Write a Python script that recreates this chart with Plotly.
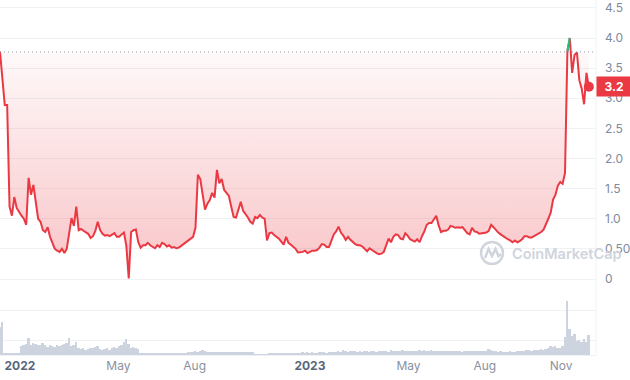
import plotly.graph_objects as go
import pandas as pd

# ---------------- data ----------------
start_date = "2021-12-07"
step = "3D"

prices = [
    3.77, 3.25, 2.89, 2.89, 1.20, 1.05, 1.36, 1.18, 1.11, 1.05,
    1.00, 0.90, 1.68, 1.40, 1.56, 1.23, 1.00, 0.95, 0.81, 0.78,
    0.86, 0.70, 0.60, 0.50, 0.47, 0.45, 0.50, 0.43, 0.50, 0.75,
    1.01, 0.88, 1.20, 0.81, 0.83, 0.80, 0.78, 0.75, 0.68, 0.71,
    0.80, 0.95, 0.81, 0.75, 0.72, 0.73, 0.71, 0.74, 0.76, 0.70,
    0.70, 0.74, 0.77, 0.55, 0.01, 0.78, 0.81, 0.82, 0.61, 0.52,
    0.56, 0.56, 0.60, 0.56, 0.53, 0.51, 0.56, 0.53, 0.60, 0.58,
    0.54, 0.56, 0.52, 0.53, 0.51, 0.52, 0.55, 0.58, 0.61, 0.64,
    0.67, 0.70, 0.85, 1.73, 1.66, 1.40, 1.15, 1.25, 1.31, 1.43,
    1.35, 1.81, 1.59, 1.66, 1.48, 1.43, 1.38, 1.20, 1.03, 1.02,
    1.15, 1.28, 1.13, 1.08, 1.02, 0.95, 0.92, 1.03, 1.01, 1.06,
    1.02, 1.00, 0.64, 0.76, 0.77, 0.73, 0.70, 0.67, 0.62, 0.57,
    0.70, 0.60, 0.57, 0.54, 0.50, 0.44, 0.44, 0.45, 0.47, 0.43,
    0.45, 0.47, 0.47, 0.48, 0.52, 0.58, 0.57, 0.53, 0.53, 0.62,
    0.74, 0.79, 0.87, 0.77, 0.72, 0.65, 0.70, 0.65, 0.61, 0.58,
    0.56, 0.56, 0.54, 0.50, 0.46, 0.51, 0.48, 0.45, 0.43, 0.41,
    0.42, 0.45, 0.56, 0.67, 0.61, 0.70, 0.74, 0.73, 0.67, 0.66,
    0.76, 0.72, 0.66, 0.64, 0.62, 0.66, 0.61, 0.71, 0.79, 0.90,
    0.93, 0.93, 0.99, 1.05, 0.89, 0.78, 0.80, 0.80, 0.82, 0.88,
    0.87, 0.85, 0.86, 0.85, 0.86, 0.81, 0.76, 0.74, 0.85, 0.79,
    0.78, 0.75, 0.76, 0.76, 0.77, 0.80, 0.90, 0.86, 0.81, 0.77,
    0.74, 0.71, 0.68, 0.66, 0.64, 0.61, 0.64, 0.61, 0.63, 0.66,
    0.71, 0.71, 0.69, 0.69, 0.71, 0.73, 0.76, 0.78, 0.82, 0.90,
    1.00, 1.10, 1.32, 1.40, 1.55, 1.61, 1.58, 1.76, 3.78, 4.00,
    3.42, 3.72, 3.76, 3.30, 3.16, 2.90, 3.42, 3.19,
]

volumes = [
    1.9, 2.2, 0.15, 0.1, 0.12, 0.1, 0.15, 0.12, 0.15, 0.6,
    0.7, 0.75, 1.15, 0.7, 0.8, 0.75, 0.7, 0.65, 0.8, 0.7,
    0.55, 0.65, 0.6, 0.55, 0.7, 0.6, 0.65, 0.75, 0.8, 1.15,
    0.6, 0.7, 0.9, 0.5, 0.4, 0.45, 0.35, 0.4, 0.45, 0.5,
    0.55, 0.6, 0.4, 0.35, 0.4, 0.45, 0.35, 0.5, 0.55, 0.45,
    0.6, 0.7, 0.85, 1.1, 0.75, 0.5, 0.55, 0.45, 0.4, 0.15,
    0.1, 0.08, 0.1, 0.08, 0.09, 0.1, 0.08, 0.09, 0.1, 0.08,
    0.09, 0.1, 0.08, 0.09, 0.1, 0.08, 0.09, 0.1, 0.12, 0.2,
    0.22, 0.2, 0.25, 0.22, 0.3, 0.35, 0.25, 0.22, 0.2, 0.22,
    0.2, 0.22, 0.2, 0.21, 0.2, 0.22, 0.2, 0.21, 0.2, 0.22,
    0.2, 0.21, 0.2, 0.22, 0.2, 0.21, 0.2, 0.06, 0.05, 0.06,
    0.05, 0.06, 0.05, 0.1, 0.12, 0.1, 0.08, 0.12, 0.1, 0.09,
    0.12, 0.1, 0.11, 0.1, 0.12, 0.1, 0.15, 0.18, 0.15, 0.17,
    0.15, 0.18, 0.16, 0.15, 0.17, 0.2, 0.18, 0.15, 0.17, 0.2,
    0.18, 0.2, 0.25, 0.22, 0.32, 0.25, 0.22, 0.28, 0.25, 0.3,
    0.22, 0.25, 0.2, 0.28, 0.24, 0.22, 0.3, 0.25, 0.22, 0.26,
    0.3, 0.25, 0.28, 0.22, 0.32, 0.26, 0.24, 0.3, 0.28, 0.35,
    0.25, 0.3, 0.28, 0.24, 0.3, 0.26, 0.32, 0.28, 0.36, 0.3,
    0.28, 0.34, 0.3, 0.26, 0.3, 0.28, 0.25, 0.3, 0.27, 0.24,
    0.28, 0.25, 0.3, 0.26, 0.22, 0.27, 0.24, 0.3, 0.26, 0.28,
    0.24, 0.28, 0.26, 0.3, 0.28, 0.4, 0.32, 0.26, 0.24, 0.22,
    0.25, 0.2, 0.22, 0.2, 0.24, 0.2, 0.22, 0.25, 0.28, 0.3,
    0.3, 0.32, 0.35, 0.3, 0.34, 0.32, 0.36, 0.4, 0.35, 0.42,
    0.45, 0.6, 0.55, 0.62, 0.5, 0.48, 0.6, 1.2, 3.6, 1.75,
    1.3, 1.4, 0.95, 1.0, 0.9, 1.1, 0.9, 1.35,
]

x_tick_dates = ["2022-01-01", "2022-05-05", "2022-08-09", "2023-01-01",
                "2023-05-05", "2023-08-09", "2023-11-13"]
x_tick_labels = ["2022", "May", "Aug", "2023", "May", "Aug", "Nov"]
year_labels = {"2022", "2023"}

y_ticks = [0, 0.5, 1.0, 1.5, 2.0, 2.5, 3.0, 3.5, 4.0, 4.5]
y_tick_labels = ["0", "0.50", "1.0", "1.5", "2.0", "2.5", "3.0", "3.5", "4.0", "4.5"]

vol_grid = [1, 3]

# ---------------- styling ----------------
RED = "#ea3943"
GREEN = "#16c784"
GRID = "#eff2f5"
GRAY = "#808a9d"
WM = "#cfd4dd"
FONT = "Inter"

dates = pd.date_range(start_date, periods=len(prices), freq=step)
baseline = prices[0]
below = [min(p, baseline) for p in prices]
above = [p if p > baseline else None for p in prices]

fig = go.Figure()

# baseline (invisible) for the fill
fig.add_trace(go.Scatter(x=dates, y=[baseline] * len(dates), mode="lines",
                         line=dict(width=0, color="rgba(0,0,0,0)"),
                         hoverinfo="skip", yaxis="y"))
# gradient fill between price and baseline
fig.add_trace(go.Scatter(x=dates, y=below, mode="lines", fill="tonexty",
                         line=dict(width=0, color="rgba(0,0,0,0)"),
                         fillgradient=dict(type="vertical",
                                           colorscale=[[0, "rgba(234,57,67,0.30)"],
                                                       [1, "rgba(234,57,67,0.03)"]],
                                           start=0, stop=baseline),
                         hoverinfo="skip", yaxis="y"))
# price line
fig.add_trace(go.Scatter(x=dates, y=prices, mode="lines",
                         line=dict(color=RED, width=2), yaxis="y"))
# above-baseline part
fig.add_trace(go.Scatter(x=dates, y=above, mode="lines", connectgaps=False,
                         line=dict(color=GREEN, width=2), yaxis="y"))
# last point
fig.add_trace(go.Scatter(x=[dates[-1]], y=[prices[-1]], mode="markers",
                         marker=dict(color=RED, size=10), cliponaxis=False,
                         yaxis="y"))
# volume
fig.add_trace(go.Bar(x=dates, y=volumes, yaxis="y2",
                     marker=dict(color="#cdd4e0", line=dict(width=0)),
                     width=3 * 86400000 * 0.8))

W, H = 630, 380
ML, MR, MT, MB = 0, 34, 0, 25
PW, PH = W - ML - MR, H - MT - MB


def px(x):
    return (x - ML) / PW


def py(y):
    return (H - MB - y) / PH


x_ticktext = [
    f"<b><span style='color:#58667e'>{t}</span></b>" if t in year_labels else t
    for t in x_tick_labels
]

fig.update_layout(
    width=W, height=H,
    margin=dict(l=ML, r=MR, t=MT, b=MB),
    paper_bgcolor="white", plot_bgcolor="white",
    showlegend=False,
    font=dict(family=FONT, size=12, color=GRAY),
    bargap=0,
    xaxis=dict(type="date", range=["2021-12-07", "2023-12-27"],
               tickvals=x_tick_dates, ticktext=x_ticktext,
               showgrid=False, zeroline=False, anchor="y2",
               showline=True, linecolor=GRID, linewidth=1,
               ticks="", tickfont=dict(size=12, color="#8a919e")),
    yaxis=dict(domain=[py(290), 1], range=[-0.1826, 4.6307], side="right",
               tickvals=y_ticks, ticktext=y_tick_labels,
               gridcolor=GRID, zeroline=False, ticks="",
               ticklabelstandoff=8, anchor="x",
               tickfont=dict(size=12, color=GRAY)),
    yaxis2=dict(domain=[0, py(298)], range=[0, 3.8], side="right",
                tickvals=vol_grid, showticklabels=False, gridcolor=GRID,
                zeroline=False, anchor="x"),
)

# baseline dotted reference line
fig.add_shape(type="line", xref="paper", x0=0, x1=1, yref="y",
              y0=baseline, y1=baseline,
              line=dict(color="#9aa0aa", width=1, dash="1px,3px"))
# right axis line
fig.add_shape(type="line", xref="paper", yref="paper", x0=1, x1=1, y0=0, y1=1,
              line=dict(color=GRID, width=1))

# watermark
fig.add_shape(type="circle", xref="paper", yref="paper",
              x0=px(481), x1=px(503), y0=py(264), y1=py(242),
              line=dict(color=WM, width=2.5))
fig.add_shape(type="path", xref="paper", yref="paper",
              path=(f"M {px(485)} {py(258)} L {px(488.5)} {py(249)} L {px(492)} {py(256)} "
                    f"L {px(495.5)} {py(249)} L {px(498.5)} {py(256)} L {px(501)} {py(254)}"),
              line=dict(color=WM, width=2.5))
fig.add_annotation(xref="paper", yref="paper", x=px(510), y=py(254),
                   xanchor="left", yanchor="middle", showarrow=False,
                   text="CoinMarketCap",
                   font=dict(family=FONT, size=14.5, color=WM, weight=600))

# last price label
fig.add_annotation(xref="paper", yref="y", x=1, y=prices[-1], xanchor="left",
                   yanchor="middle", showarrow=False,
                   text=f"<b>{prices[-1]:.1f}</b>",
                   bgcolor=RED, font=dict(family=FONT, size=12, color="white"),
                   width=30, height=15, borderpad=2)

fig.write_html("out.html",
               config={"displayModeBar": False},
               post_script="document.body.style.margin='0';document.body.style.overflow='hidden';")
